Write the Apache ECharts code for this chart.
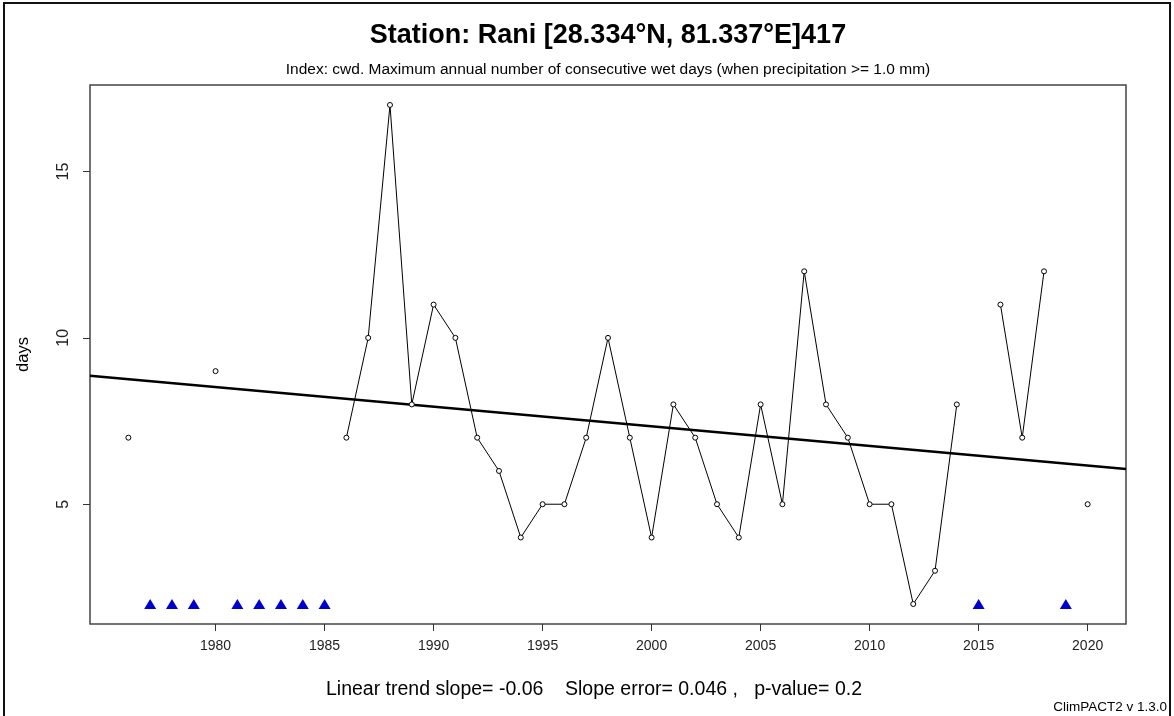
<!DOCTYPE html>
<html>
<head>
<meta charset="utf-8">
<script src="https://cdn.jsdelivr.net/npm/echarts@6/dist/echarts.min.js"></script>
<style>
html,body{margin:0;padding:0;background:#fff;}
#chart{width:1174px;height:716px;}
</style>
</head>
<body>
<div id="chart"></div>
<script>
// Data
const years = [1976,1977,1978,1979,1980,1981,1982,1983,1984,1985,1986,1987,1988,1989,1990,1991,1992,1993,1994,1995,1996,1997,1998,1999,2000,2001,2002,2003,2004,2005,2006,2007,2008,2009,2010,2011,2012,2013,2014,2015,2016,2017,2018,2019,2020];
const cwdValues = [7,null,null,null,9,null,null,null,null,null,7,10,17,8,11,10,7,6,4,5,5,7,10,7,4,8,7,5,4,8,5,12,8,7,5,5,2,3,8,null,11,7,12,null,5];
const missingYears = [1977,1978,1979,1981,1982,1983,1984,1985,2015,2019];
const missingMarkerLevel = 2;
const trendYears = [1974.24, 2021.76];
const trendValues = [8.86, 6.06];
const xTicks = [1980,1985,1990,1995,2000,2005,2010,2015,2020];
const yTicks = [5,10,15];
const xRange = [1974.24, 2021.76];
const yRange = [1.4, 17.6];

const titleText = 'Station: Rani [28.334°N, 81.337°E]417';
const subtitleText = 'Index: cwd. Maximum annual number of consecutive wet days (when precipitation >= 1.0 mm)';
const trendText = 'Linear trend slope= -0.06    Slope error= 0.046 ,   p-value= 0.2';
const footerText = 'ClimPACT2 v 1.3.0';
const yName = 'days';

const lineData = years.map((y, i) => [y, cwdValues[i]]);
const missingData = missingYears.map(y => [y, missingMarkerLevel]);
const trendData = trendYears.map((y, i) => [y, trendValues[i]]);

const FONT = '"Liberation Sans", Arial, sans-serif';
function txt(text, x, y, size, weight, align) {
  return {type: 'text', silent: true, z: 10, style: {
    text: text, x: x, y: y, align: align || 'center', verticalAlign: 'middle',
    fontFamily: FONT, fontSize: size, fontWeight: weight || 'normal', fill: '#000'
  }};
}
const chart = echarts.init(document.getElementById('chart'), null, {renderer: 'canvas'});
chart.setOption({
  backgroundColor: '#fff',
  animation: false,
  grid: {left: 90, top: 85, width: 1036, height: 539, show: true, borderColor: '#444', borderWidth: 1.5, backgroundColor: 'transparent'},
  xAxis: {
    type: 'value', min: xRange[0], max: xRange[1],
    axisLine: {show: false},
    splitLine: {show: false},
    axisTick: {show: true, customValues: xTicks, length: 7, lineStyle: {color: '#333'}},
    axisLabel: {customValues: xTicks, margin: 15, fontFamily: FONT, fontSize: 14, color: '#222', formatter: v => String(v)}
  },
  yAxis: {
    type: 'value', min: yRange[0], max: yRange[1],
    name: yName, nameLocation: 'middle', nameGap: 58, nameRotate: 90,
    nameTextStyle: {fontFamily: FONT, fontSize: 16.5, color: '#000'},
    axisLine: {show: false},
    splitLine: {show: false},
    axisTick: {show: true, customValues: yTicks, length: 7, lineStyle: {color: '#333'}},
    axisLabel: {customValues: yTicks, rotate: 90, margin: 18, fontFamily: FONT, fontSize: 16, color: '#222'}
  },
  series: [
    {
      type: 'line', data: lineData, connectNulls: false,
      symbol: 'circle', symbolSize: 5, showSymbol: true, showAllSymbol: true,
      itemStyle: {color: '#fff', borderColor: '#000', borderWidth: 1},
      lineStyle: {color: '#000', width: 1},
      z: 3
    },
    {
      type: 'line', data: trendData, symbol: 'none',
      lineStyle: {color: '#000', width: 2.5}, z: 2
    },
    {
      type: 'scatter', data: missingData, symbol: 'triangle', symbolSize: [12, 10],
      itemStyle: {color: '#0000cd', opacity: 1}, z: 4
    }
  ],
  graphic: [
    {type: 'rect', silent: true, shape: {x: 4, y: 3, width: 1166, height: 740}, style: {fill: 'none', stroke: '#111', lineWidth: 2}},
    txt(titleText, 608, 36, 27, 'bold'),
    txt(subtitleText, 608, 70, 15.5),
    txt(trendText, 594, 690, 19.5),
    txt(footerText, 1167, 707, 13.5, 'normal', 'right')
  ]
});
</script>
</body>
</html>
